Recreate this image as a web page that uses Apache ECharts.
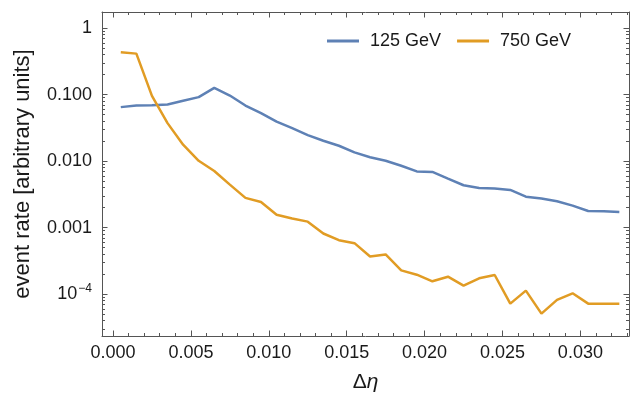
<!DOCTYPE html>
<html><head><meta charset="utf-8">
<script src="https://cdn.jsdelivr.net/npm/echarts@6/dist/echarts.min.js"></script>
<style>html,body{margin:0;padding:0;background:#fff}#c{width:635px;height:398px}</style>
</head><body><div id="c"></div>
<script>
// ---- data ----
const deltaEta = [0.0005,0.0015,0.0025,0.0035,0.0045,0.0055,0.0065,0.0075,0.0085,0.0095,
  0.0105,0.0115,0.0125,0.0135,0.0145,0.0155,0.0165,0.0175,0.0185,0.0195,
  0.0205,0.0215,0.0225,0.0235,0.0245,0.0255,0.0265,0.0275,0.0285,0.0295,
  0.0305,0.0315,0.0325];
const rate125 = [0.0647,0.0684,0.0690,0.0708,0.0805,0.0914,0.126,0.0966,0.0684,0.0526,
  0.0392,0.0313,0.0246,0.0202,0.0170,0.0135,0.0114,0.0101,0.0085,0.0070,
  0.00686,0.00544,0.00433,0.00395,0.00386,0.00368,0.00292,0.00273,0.00249,0.00214,
  0.00178,0.00176,0.00172];
const rate750 = [0.432,0.412,0.0957,0.0372,0.0176,0.0101,0.0071,0.00443,0.0028,0.00243,
  0.00156,0.00137,0.00123,0.000816,0.000648,0.000584,0.000369,0.000395,0.000228,0.000196,
  0.000156,0.000183,0.000134,0.000173,0.000194,0.000072,0.000113,0.000051,0.000082,0.000103,
  0.000072,0.000072,0.000072];
const seriesNames = ['125 GeV','750 GeV'];
const xMajorTicks = [0,0.005,0.010,0.015,0.020,0.025,0.030];
const xMinorTicks = [0.001,0.002,0.003,0.004,0.006,0.007,0.008,0.009,0.011,0.012,0.013,0.014,
  0.016,0.017,0.018,0.019,0.021,0.022,0.023,0.024,0.026,0.027,0.028,0.029,0.031,0.032,0.033];
const yMajorTicks = [1e-4,1e-3,1e-2,1e-1,1];
const yMajorLabels = ['10^-4','0.001','0.010','0.100','1'];
const yMinorTicks = [2e-5,3e-5,4e-5,5e-5,6e-5,7e-5,8e-5,9e-5,
  2e-4,3e-4,4e-4,5e-4,6e-4,7e-4,8e-4,9e-4,
  2e-3,3e-3,4e-3,5e-3,6e-3,7e-3,8e-3,9e-3,
  2e-2,3e-2,4e-2,5e-2,6e-2,7e-2,8e-2,9e-2,
  0.2,0.3,0.4,0.5,0.6,0.7,0.8,0.9];
const xName = 'Δη';
const yName = 'event rate [arbitrary units]';

// ---- chart ----
const FONT = '"Liberation Sans", Arial, sans-serif';
const FRAME = '#555555';
const TXT = '#1a1a1a';
const X_MIN = -0.000706, X_MAX = 0.03312;
const Y_MIN = 2.35e-5, Y_MAX = 1.74;

function xAx(pos, ticks, len, main) {
  return {
    type: 'value', position: pos, min: X_MIN, max: X_MAX,
    axisLine: { show: main, onZero: false, lineStyle: { color: FRAME, width: 1 } },
    axisTick: { show: true, inside: true, length: len, customValues: ticks, lineStyle: { color: FRAME, width: 1 } },
    axisLabel: main && pos === 'bottom' ? {
      show: true, customValues: xMajorTicks, margin: 8, fontSize: 18, fontFamily: FONT, color: TXT,
      formatter: v => v.toFixed(3)
    } : { show: false, customValues: ticks },
    splitLine: { show: false },
    name: main && pos === 'bottom' ? '{a|' + xName.charAt(0) + '}{e|' + xName.charAt(1) + '}' : '',
    nameLocation: 'middle', nameGap: 36,
    nameTextStyle: { rich: {
      a: { fontSize: 21, fontFamily: FONT, color: TXT },
      e: { fontSize: 21, fontFamily: FONT, color: TXT, fontStyle: 'italic' } } }
  };
}
function yLabel(v) {
  const k = Math.round(Math.log10(v));
  const idx = yMajorTicks.findIndex(t => Math.abs(Math.log10(t) - k) < 1e-6);
  const s = yMajorLabels[idx];
  if (s && s.indexOf('^') >= 0) {
    const p = s.split('^');
    return '{b|' + p[0] + '}{s|' + p[1].replace('-', '−') + '}';
  }
  return s || '';
}
function yAx(pos, ticks, len, main) {
  return {
    type: 'log', logBase: 10, position: pos, min: Y_MIN, max: Y_MAX,
    axisLine: { show: main, onZero: false, lineStyle: { color: FRAME, width: 1 } },
    axisTick: { show: true, inside: true, length: len, customValues: ticks, lineStyle: { color: FRAME, width: 1 } },
    axisLabel: main && pos === 'left' ? {
      show: true, customValues: yMajorTicks, margin: 10, fontSize: 18, fontFamily: FONT, color: TXT,
      formatter: yLabel,
      rich: {
        b: { fontSize: 18, fontFamily: FONT, color: TXT },
        s: { fontSize: 12, fontFamily: FONT, color: TXT, padding: [0, 0, 10, 1] }
      }
    } : { show: false, customValues: ticks },
    splitLine: { show: false },
    minorSplitLine: { show: false },
    name: main && pos === 'left' ? yName : '',
    nameLocation: 'middle', nameGap: 68,
    nameTextStyle: { fontSize: 22, fontFamily: FONT, color: TXT }
  };
}

const chart = echarts.init(document.getElementById('c'), null, { renderer: 'canvas' });
const colors = ['#5E81B5', '#E19C24'];
chart.setOption({
  animation: false,
  backgroundColor: '#ffffff',
  grid: { left: 102, right: 6, top: 12, bottom: 61, containLabel: false },
  legend: {
    data: seriesNames, left: 322, top: 27, itemWidth: 32, itemHeight: 3, itemGap: 16,
    icon: 'rect',
    textStyle: { fontSize: 18, fontFamily: FONT, color: TXT, padding: [0, 0, 0, 6] }
  },
  xAxis: [
    xAx('bottom', xMajorTicks, 5.5, true),
    xAx('bottom', xMinorTicks, 3, false),
    xAx('top', xMajorTicks, 5.5, true),
    xAx('top', xMinorTicks, 3, false)
  ],
  yAxis: [
    yAx('left', yMajorTicks, 5.5, true),
    yAx('left', yMinorTicks, 3, false),
    yAx('right', yMajorTicks, 5.5, true),
    yAx('right', yMinorTicks, 3, false)
  ],
  series: [rate125, rate750].map((arr, i) => ({
    name: seriesNames[i], type: 'line', xAxisIndex: 0, yAxisIndex: 0,
    data: deltaEta.map((x, j) => [x, arr[j]]),
    showSymbol: false, symbol: 'none', smooth: false,
    lineStyle: { color: colors[i], width: 2.5 },
    itemStyle: { color: colors[i] }
  }))
});
</script></body></html>
